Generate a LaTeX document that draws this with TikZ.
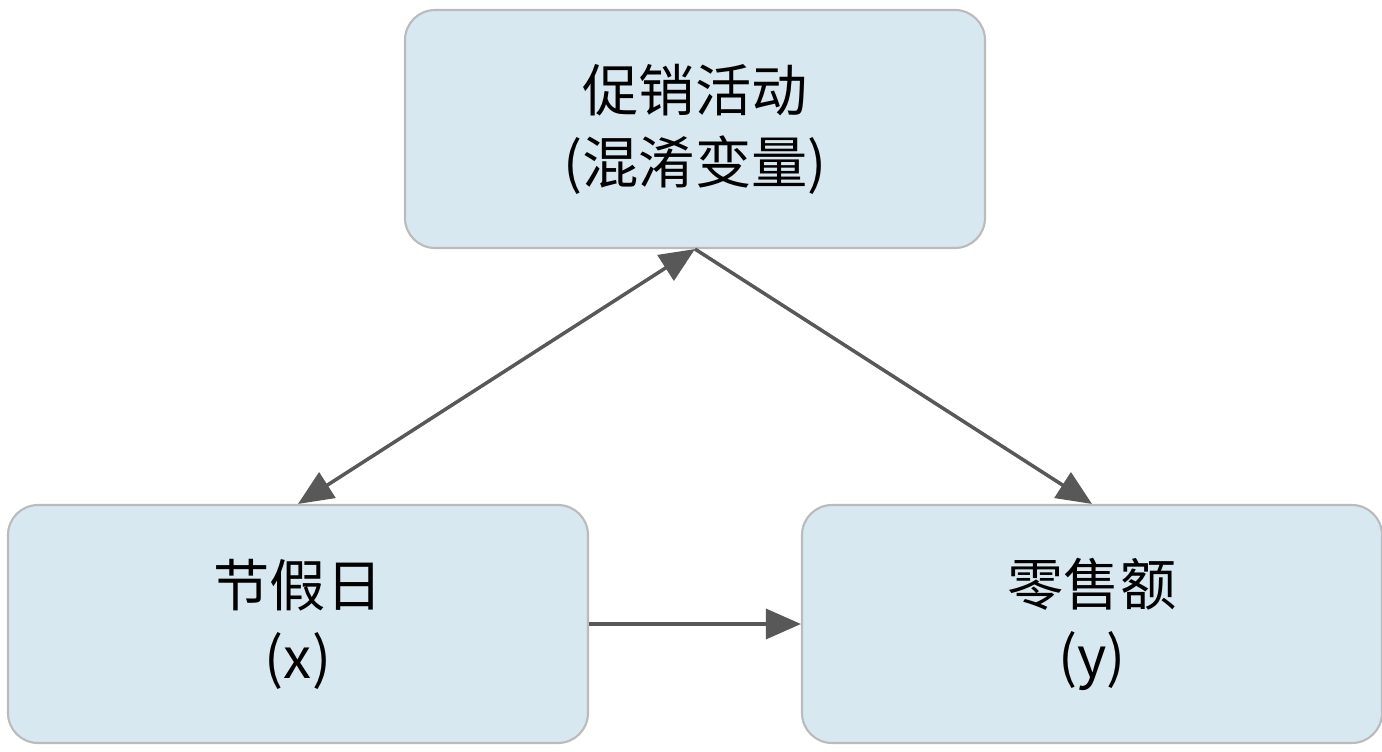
\documentclass[tikz,border=0pt]{standalone}
\usepackage{fontspec}
\setmainfont{Noto Sans CJK SC}
\usetikzlibrary{arrows.meta,positioning}
\definecolor{boxfill}{HTML}{D7E8F0}
\definecolor{boxline}{HTML}{BBBBBB}
\definecolor{arrowgray}{HTML}{585858}
\tikzset{
    block/.style = {draw=boxline, fill=boxfill, line width=1.2pt, rectangle, rounded corners=0.6cm,
        minimum height=4.76cm,
        minimum width=11.6cm, align=center, font=\fontsize{32}{41}\selectfont},
    arrow/.style={draw=arrowgray, line width=0.07cm, -{Triangle[length=0.7cm,width=0.6cm]}}
}

\begin{document}
\begin{tikzpicture}
        \useasboundingbox (0,0) rectangle (27.64,-15.04);
        \node [block] (promo) at (13.9,-2.58) {促销活动\\(混淆变量)};
        \node [block] (holiday) at (5.96,-12.48) {节假日\\(x)};
        \node [block] (sales) at (21.84,-12.48) {零售额\\(y)};
        \draw[arrow,{Triangle[length=0.7cm,width=0.6cm]}-{Triangle[length=0.7cm,width=0.6cm]}] (promo.south) -- (holiday.north);
        \draw[arrow] (promo.south) -- (sales.north);
        \draw[arrow] (holiday) -- (sales);
\end{tikzpicture}
\end{document}
